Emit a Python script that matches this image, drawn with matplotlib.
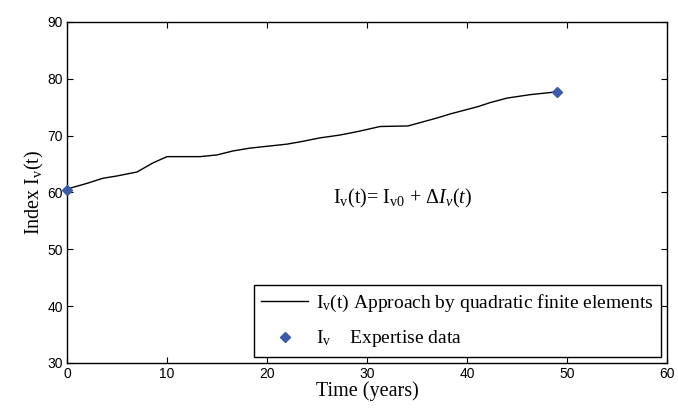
import matplotlib
matplotlib.use("Agg")
import matplotlib.pyplot as plt

# approximated curve
t_curve = [0, 2, 3.6, 5, 7, 8.6, 10, 13.3, 15, 16.6, 18.3, 22, 23.3, 25.3, 27.3,
           29.3, 31.3, 34.1, 37, 38.3, 41.1, 42.3, 44, 46.3, 49]
iv_curve = [60.6, 61.6, 62.5, 62.9, 63.6, 65.2, 66.3, 66.3, 66.6, 67.3, 67.8, 68.5,
            68.9, 69.6, 70.1, 70.8, 71.6, 71.7, 73.1, 73.8, 75.1, 75.8, 76.6, 77.2, 77.7]

# expertise data points
t_data = [0, 49]
iv_data = [60.5, 77.7]

plt.rcParams["mathtext.fontset"] = "custom"
plt.rcParams["mathtext.rm"] = "Liberation Serif"
plt.rcParams["mathtext.it"] = "Liberation Serif:italic"

serif = "Liberation Serif"
sans = "Liberation Sans"

fig = plt.figure(figsize=(6.78, 4.08), dpi=100)
ax = fig.add_axes([0.0988, 0.1103, 0.885, 0.836])

ax.plot(t_curve, iv_curve, color="black", lw=1.0,
        label=r"I$_\mathrm{v}$(t) Approach by quadratic finite elements")
ax.plot(t_data, iv_data, linestyle="none", marker="D", ms=5, color="#3A5BA8",
        clip_on=False, zorder=5, label=r"I$_\mathrm{v}$    Expertise data")

ax.set_xlim(0, 60)
ax.set_ylim(30, 90)
ax.set_xticks(range(0, 61, 10))
ax.set_yticks(range(30, 91, 10))
ax.tick_params(direction="in", top=True, right=True, length=4, width=0.8,
               labelsize=10, pad=3)
for lab in ax.get_xticklabels() + ax.get_yticklabels():
    lab.set_fontfamily(sans)
for s in ax.spines.values():
    s.set_linewidth(1.0)

ax.set_xlabel("Time (years)", fontfamily=serif, fontsize=14.5, labelpad=0)
ax.set_ylabel(r"Index I$_\mathrm{v}$(t)", fontfamily=serif, fontsize=14.5, labelpad=1)

ax.text(33.6, 58.9, r"I$_\mathrm{v}$(t)= I$_\mathrm{v0}$ + $\Delta I_v(t)$",
        fontfamily=serif, fontsize=14.5, ha="center", va="center")

leg = ax.legend(loc="lower right", fancybox=False, edgecolor="black",
                prop={"family": serif, "size": 14}, handlelength=2.4,
                handletextpad=0.4, borderpad=0.4, borderaxespad=0.3,
                framealpha=1, labelspacing=0.75)
leg.get_frame().set_linewidth(1.0)

fig.savefig("out.png", dpi=100)
